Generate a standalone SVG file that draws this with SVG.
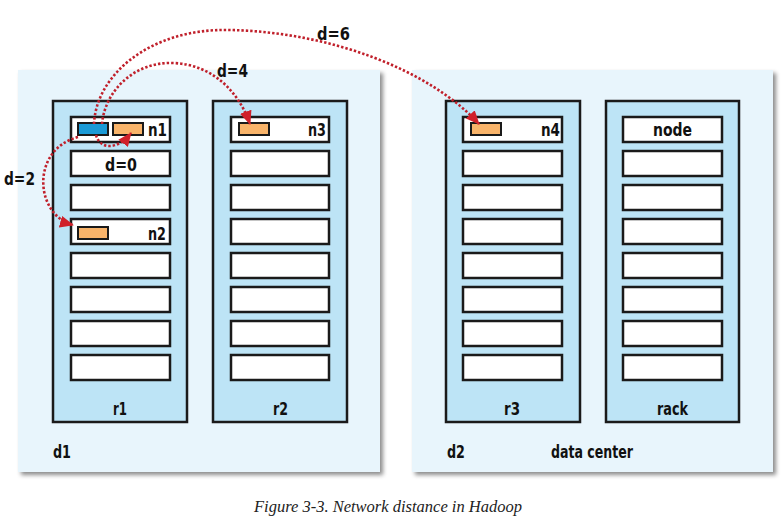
<svg xmlns="http://www.w3.org/2000/svg" width="784" height="521" viewBox="0 0 784 521">
<defs>
<filter id="sh" x="-5%" y="-5%" width="112%" height="112%">
<feDropShadow dx="3" dy="3" stdDeviation="2" flood-color="#000" flood-opacity="0.45"/>
</filter>
<marker id="ah" viewBox="0 0 14 12" refX="13" refY="6" markerWidth="14" markerHeight="12" markerUnits="userSpaceOnUse" orient="auto">
<path d="M0,0 L14,6 L0,12 Z" fill="#d0202a"/>
</marker>
<style>
.dc{fill:#e8f5fc;}
.rack{fill:#bde4f6;stroke:#1a1a1a;stroke-width:2.5;}
.nd{fill:#fff;stroke:#1a1a1a;stroke-width:2.5;}
.or{fill:#f9b46a;stroke:#1a1a1a;stroke-width:2;}
.bl{fill:#1b9ad6;stroke:#1a1a1a;stroke-width:2;}
.t{font-family:"DejaVu Sans Condensed","DejaVu Sans",sans-serif;font-stretch:condensed;font-weight:bold;font-size:18px;fill:#111;}
.c{fill:none;stroke:#c0202b;stroke-width:2.6;stroke-dasharray:2.4 2;marker-end:url(#ah);}
.cap{font-family:"Liberation Serif",serif;font-style:italic;font-size:16.5px;fill:#222;}
</style>
</defs>
<rect width="784" height="521" fill="#fff"/>

<g id="d1">
<rect class="dc" x="18" y="70" width="362" height="402" filter="url(#sh)"/>
<text class="t" x="53" y="458" textLength="18" lengthAdjust="spacingAndGlyphs">d1</text>
</g>
<g id="d2">
<rect class="dc" x="412" y="70" width="361" height="402" filter="url(#sh)"/>
<text class="t" x="447" y="458" textLength="18" lengthAdjust="spacingAndGlyphs">d2</text>
<text class="t" x="551" y="458" textLength="82" lengthAdjust="spacingAndGlyphs">data center</text>
</g>

<g id="r1">
<rect class="rack" x="53" y="101" width="134" height="321"/>
<rect class="nd" x="71" y="117" width="99" height="25"/>
<rect class="nd" x="71" y="151" width="99" height="25"/>
<rect class="nd" x="71" y="185" width="99" height="25"/>
<rect class="nd" x="71" y="219" width="99" height="25"/>
<rect class="nd" x="71" y="253" width="99" height="25"/>
<rect class="nd" x="71" y="287" width="99" height="25"/>
<rect class="nd" x="71" y="321" width="99" height="25"/>
<rect class="nd" x="71" y="355" width="99" height="25"/>
<text class="t" x="113" y="415" textLength="14" lengthAdjust="spacingAndGlyphs">r1</text>
</g>
<g id="n1">
<rect class="bl" x="78" y="123" width="30" height="12"/>
<rect class="or" x="113" y="123" width="30" height="12"/>
<text class="t" x="148" y="136" textLength="19" lengthAdjust="spacingAndGlyphs">n1</text>
</g>
<g id="d0">
<text class="t" x="105" y="171" textLength="32" lengthAdjust="spacingAndGlyphs">d=0</text>
</g>
<g id="n2">
<rect class="or" x="78" y="227" width="30" height="12"/>
<text class="t" x="148" y="240" textLength="18" lengthAdjust="spacingAndGlyphs">n2</text>
</g>

<g id="r2">
<rect class="rack" x="213" y="101" width="134" height="321"/>
<rect class="nd" x="231" y="117" width="98" height="25"/>
<rect class="nd" x="231" y="151" width="98" height="25"/>
<rect class="nd" x="231" y="185" width="98" height="25"/>
<rect class="nd" x="231" y="219" width="98" height="25"/>
<rect class="nd" x="231" y="253" width="98" height="25"/>
<rect class="nd" x="231" y="287" width="98" height="25"/>
<rect class="nd" x="231" y="321" width="98" height="25"/>
<rect class="nd" x="231" y="355" width="98" height="25"/>
<text class="t" x="273" y="415" textLength="15" lengthAdjust="spacingAndGlyphs">r2</text>
</g>
<g id="n3">
<rect class="or" x="239" y="123" width="30" height="12"/>
<text class="t" x="308" y="136" textLength="18" lengthAdjust="spacingAndGlyphs">n3</text>
</g>

<g id="r3">
<rect class="rack" x="446" y="101" width="134" height="321"/>
<rect class="nd" x="463" y="117" width="99" height="25"/>
<rect class="nd" x="463" y="151" width="99" height="25"/>
<rect class="nd" x="463" y="185" width="99" height="25"/>
<rect class="nd" x="463" y="219" width="99" height="25"/>
<rect class="nd" x="463" y="253" width="99" height="25"/>
<rect class="nd" x="463" y="287" width="99" height="25"/>
<rect class="nd" x="463" y="321" width="99" height="25"/>
<rect class="nd" x="463" y="355" width="99" height="25"/>
<text class="t" x="504" y="415" textLength="16" lengthAdjust="spacingAndGlyphs">r3</text>
</g>
<g id="n4">
<rect class="or" x="471" y="123" width="30" height="12"/>
<text class="t" x="541" y="136" textLength="19" lengthAdjust="spacingAndGlyphs">n4</text>
</g>

<g id="rack">
<rect class="rack" x="606" y="101" width="133" height="321"/>
<rect class="nd" x="623" y="117" width="99" height="25"/>
<rect class="nd" x="623" y="151" width="99" height="25"/>
<rect class="nd" x="623" y="185" width="99" height="25"/>
<rect class="nd" x="623" y="219" width="99" height="25"/>
<rect class="nd" x="623" y="253" width="99" height="25"/>
<rect class="nd" x="623" y="287" width="99" height="25"/>
<rect class="nd" x="623" y="321" width="99" height="25"/>
<rect class="nd" x="623" y="355" width="99" height="25"/>
<text class="t" x="653" y="136" textLength="39" lengthAdjust="spacingAndGlyphs">node</text>
<text class="t" x="657" y="415" textLength="31" lengthAdjust="spacingAndGlyphs">rack</text>
</g>

<g id="connectors">
<path class="c" d="M96,135 C100,150 118,150 131,133"/>
<path class="c" d="M78,137 C30,150 35,215 73,225"/>
<path class="c" d="M102,124 C105,90 135,62 172,63 C215,64 240,95 250,124"/>
<path class="c" d="M94,124 C96,75 150,28 230,30 C330,32 430,70 479,124"/>
</g>
<g id="labels">
<text class="t" x="317" y="40" textLength="33" lengthAdjust="spacingAndGlyphs">d=6</text>
<text class="t" x="217" y="77" textLength="31" lengthAdjust="spacingAndGlyphs">d=4</text>
<text class="t" x="4" y="185" textLength="31" lengthAdjust="spacingAndGlyphs">d=2</text>
</g>

<text class="cap" x="388" y="512" text-anchor="middle">Figure 3-3. Network distance in Hadoop</text>
</svg>
